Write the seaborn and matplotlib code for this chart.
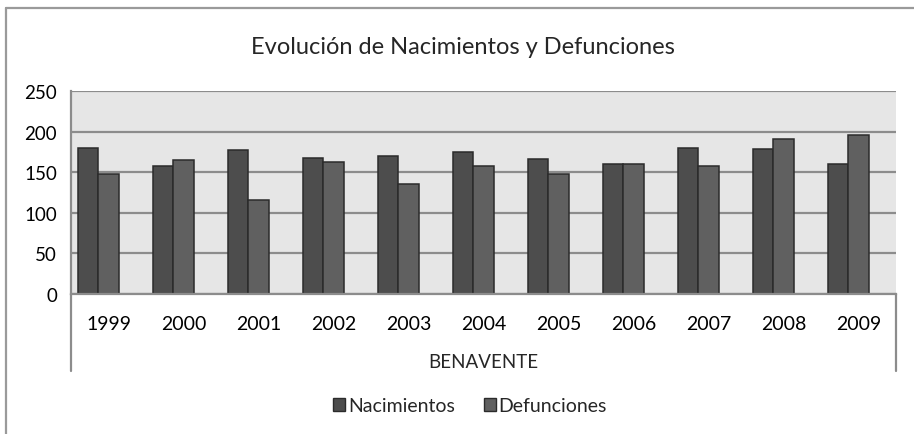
import matplotlib
matplotlib.use("Agg")
import matplotlib.pyplot as plt
from matplotlib.lines import Line2D
from matplotlib.patches import Patch
import pandas as pd
import seaborn as sns

years = ["1999", "2000", "2001", "2002", "2003", "2004", "2005", "2006", "2007", "2008", "2009"]
nacimientos = [180, 158, 177, 167, 170, 175, 166, 160, 180, 179, 160]
defunciones = [148, 165, 116, 162, 136, 158, 148, 160, 158, 191, 196]
series = ["Nacimientos", "Defunciones"]

COLORS = {"Nacimientos": "#4d4d4d", "Defunciones": "#606060", "_blank": "#ffffff"}
GRID = "#8c8c8c"

df = pd.DataFrame({
    "year": years * 2,
    "value": nacimientos + defunciones,
    "serie": [series[0]] * len(years) + [series[1]] * len(years),
})

sns.set_style("white")
plt.rcParams["font.family"] = ["Lato", "DejaVu Sans"]

W, H = 914, 435
fig = plt.figure(figsize=(W / 100, H / 100), dpi=100)
ax = fig.add_axes([71 / W, 1 - 295 / H, (896 - 71) / W, (295 - 92) / H])

# Excel chart keeps an empty third series slot, so the pair sits left of centre
sns.barplot(data=df, x="year", y="value", hue="serie",
            hue_order=series + ["_blank"], palette=COLORS, order=years,
            width=0.81, edgecolor="#2b2b2b", linewidth=1.1, saturation=1,
            errorbar=None, ax=ax, legend=False)

ax.set_facecolor("#e6e6e6")
ax.set_ylim(0, 250)
ax.set_xlim(-0.5, len(years) - 0.5)
ax.set_yticks(range(0, 251, 50))
ax.yaxis.grid(True, color=GRID, linewidth=1.6)
ax.set_axisbelow(True)
for side in ["top", "right"]:
    ax.spines[side].set_visible(False)
for side in ["left", "bottom"]:
    ax.spines[side].set_color(GRID)
    ax.spines[side].set_linewidth(1.6)
ax.tick_params(axis="both", length=0, colors="black")
ax.tick_params(axis="y", pad=10, labelsize=13.5)
ax.tick_params(axis="x", pad=15, labelsize=14)
ax.set_ylabel("")
ax.set_xlabel("BENAVENTE", fontsize=13.5, labelpad=15)

# category box lines below the axis
for x in (71, 896):
    fig.add_artist(Line2D([x / W, x / W], [1 - 295 / H, 1 - 372 / H],
                          color=GRID, linewidth=1.6))
# chart border (cropped at right and bottom)
fig.add_artist(Line2D([6 / W, 6 / W], [0, 1 - 9 / H], color="#9a9a9a", linewidth=1.6))
fig.add_artist(Line2D([6 / W, 1], [1 - 9 / H, 1 - 9 / H], color="#9a9a9a", linewidth=1.6))

fig.text(463 / W, 1 - 47 / H, "Evolución de Nacimientos y Defunciones",
         ha="center", va="center", fontsize=17)

handles = [Patch(facecolor=COLORS[s], edgecolor="#2b2b2b", linewidth=1) for s in series]
fig.legend(handles, series, loc="center", bbox_to_anchor=(470 / W, 1 - 407 / H),
           ncol=2, frameon=False, fontsize=14, handlelength=0.6, handleheight=0.6,
           handletextpad=0.15, columnspacing=1.5)

fig.savefig("out.png", dpi=100)
